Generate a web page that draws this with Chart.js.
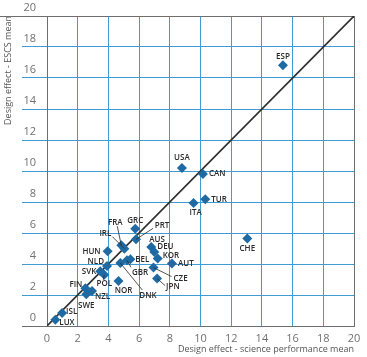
<!DOCTYPE html>
<html>
<head>
<meta charset="utf-8">
<script src="https://cdn.jsdelivr.net/npm/chart.js@4"></script>
</head>
<body style="margin:0">
<canvas id="designChart" width="367" height="357"></canvas>
<script>
const countries = ['ESP', 'USA', 'CAN', 'TUR', 'ITA', 'CHE', 'GRC', 'PRT', 'FRA', 'IRL',
  'HUN', 'AUS', 'DEU', 'KOR', 'AUT', 'BEL', 'GBR', 'DNK', 'NLD', 'SVK',
  'POL', 'NOR', 'CZE', 'JPN', 'FIN', 'NZL', 'SWE', 'ISL', 'LUX'];
const scienceEffect = [15.37, 8.79, 10.16, 10.31, 9.55, 13.05, 5.75, 5.80, 4.84, 5.04,
  3.95, 6.79, 6.99, 7.21, 8.14, 5.43, 5.21, 4.78, 3.91, 3.47,
  3.73, 4.66, 6.94, 7.17, 2.50, 2.93, 2.56, 0.98, 0.54];
const escsEffect = [16.82, 10.19, 9.81, 8.17, 7.94, 5.64, 6.28, 5.59, 5.21, 4.99,
  4.82, 5.10, 4.77, 4.35, 4.03, 4.30, 4.24, 4.06, 3.87, 3.53,
  3.30, 2.90, 3.77, 3.06, 2.43, 2.26, 2.05, 0.84, 0.41];
const tickValues = [0, 2, 4, 6, 8, 10, 12, 14, 16, 18, 20];

// label placement relative to the marker: [dx, dy, align, leaderDx, leaderDy]
const labelPlace = {
  ESP: [0, -9, 'center'], USA: [0, -10, 'center'], CAN: [6, 0, 'left'],
  TUR: [6, 0, 'left'], ITA: [2, 10, 'center'], CHE: [0, 10, 'center'],
  GRC: [0, -8, 'center'], PRT: [26, -14, 'center', 17, -11],
  FRA: [-6, -23, 'center', -4, -19], IRL: [-19, -15, 'center', -12, -12],
  HUN: [-7, 0, 'right'], AUS: [-2, -7, 'left'], DEU: [3, -5, 'left'],
  KOR: [5, -3, 'left'], AUT: [6, 0, 'left'], BEL: [5, 0, 'left'],
  GBR: [5, 12, 'left', 4, 7], DNK: [19, 33, 'left', 22, 27],
  NLD: [-3, -4, 'right'], SVK: [-4, 0, 'right'], POL: [0, 9, 'center', -1, 5],
  NOR: [5, 10, 'center'], CZE: [20, 11, 'left', 18, 9], JPN: [9, 8, 'left', 8, 7],
  FIN: [-3, -4, 'right'], NZL: [3, 6, 'left'], SWE: [0, 11, 'center'],
  ISL: [4, -1, 'left'], LUX: [4, 3, 'left']
};

const markerBlue = '#1f6aa3';
const gridBlue = '#3f9bd3';
const frameGray = '#6e6e6e';

const axisMin = tickValues[0];
const axisMax = tickValues[tickValues.length - 1];
const axisStep = tickValues[1] - tickValues[0];
// first and last grid lines are the grey frame, the rest are blue
const gridColors = tickValues.map((v) => (v === axisMin || v === axisMax) ? frameGray : gridBlue);

const points = countries.map((c, i) => ({ x: scienceEffect[i], y: escsEffect[i] }));

const countryLabels = {
  id: 'countryLabels',
  afterDatasetsDraw(chart) {
    const ctx = chart.ctx;
    const meta = chart.getDatasetMeta(0);
    ctx.save();
    ctx.font = '600 8px "Open Sans"';
    ctx.fillStyle = '#2b2b2b';
    ctx.strokeStyle = '#2b2b2b';
    ctx.lineWidth = 0.8;
    ctx.textBaseline = 'middle';
    meta.data.forEach((pt, i) => {
      const p = labelPlace[countries[i]];
      if (p.length > 3) {
        ctx.beginPath();
        ctx.moveTo(pt.x, pt.y);
        ctx.lineTo(pt.x + p[3], pt.y + p[4]);
        ctx.stroke();
      }
      ctx.textAlign = p[2];
      ctx.fillText(countries[i], pt.x + p[0], pt.y + p[1]);
    });
    // top rule runs out to the left edge
    const y = Math.round(chart.chartArea.top) + 0.5;
    ctx.strokeStyle = frameGray;
    ctx.lineWidth = 1;
    ctx.beginPath();
    ctx.moveTo(0, y);
    ctx.lineTo(chart.chartArea.left, y);
    ctx.stroke();
    ctx.restore();
  }
};

new Chart(document.getElementById('designChart'), {
  type: 'scatter',
  data: {
    datasets: [
      {
        label: 'Countries',
        data: points,
        pointStyle: 'rectRot',
        pointRadius: 5,
        pointBackgroundColor: markerBlue,
        pointBorderColor: markerBlue,
        pointBorderWidth: 0,
        order: 0
      },
      {
        type: 'line',
        label: 'Equality',
        data: [{ x: axisMin, y: axisMin }, { x: axisMax, y: axisMax }],
        borderColor: '#2e2e2e',
        borderWidth: 1.6,
        pointRadius: 0,
        order: 1
      }
    ]
  },
  options: {
    responsive: false,
    animation: false,
    layout: { padding: { top: 16, right: 13, left: 0, bottom: 0 } },
    plugins: {
      legend: { display: false },
      tooltip: { enabled: false }
    },
    scales: {
      x: {
        type: 'linear',
        min: axisMin,
        max: axisMax,
        afterFit: (s) => { s.height = 31; },
        border: { display: true, color: frameGray, width: 1 },
        grid: { color: gridColors, lineWidth: 1, drawTicks: false },
        ticks: {
          stepSize: axisStep,
          padding: 6,
          color: '#707070',
          font: { family: 'Open Sans', size: 11 }
        },
        title: {
          display: true,
          text: 'Design effect - science performance mean',
          align: 'end',
          color: '#555',
          font: { family: 'Open Sans', size: 9 },
          padding: { top: 0, bottom: 2 }
        }
      },
      y: {
        type: 'linear',
        min: axisMin,
        max: axisMax,
        afterFit: (s) => { s.width = 47; },
        border: { display: true, color: frameGray, width: 1 },
        grid: { color: gridColors, lineWidth: 1, drawTicks: true, tickLength: 25 },
        ticks: {
          stepSize: axisStep,
          padding: -14,
          labelOffset: -8,
          color: '#707070',
          font: { family: 'Open Sans', size: 11 }
        },
        title: {
          display: true,
          text: 'Design effect - ESCS mean',
          align: 'end',
          color: '#555',
          font: { family: 'Open Sans', size: 9 },
          padding: 3
        }
      }
    }
  },
  plugins: [countryLabels]
});
</script>
</body>
</html>
